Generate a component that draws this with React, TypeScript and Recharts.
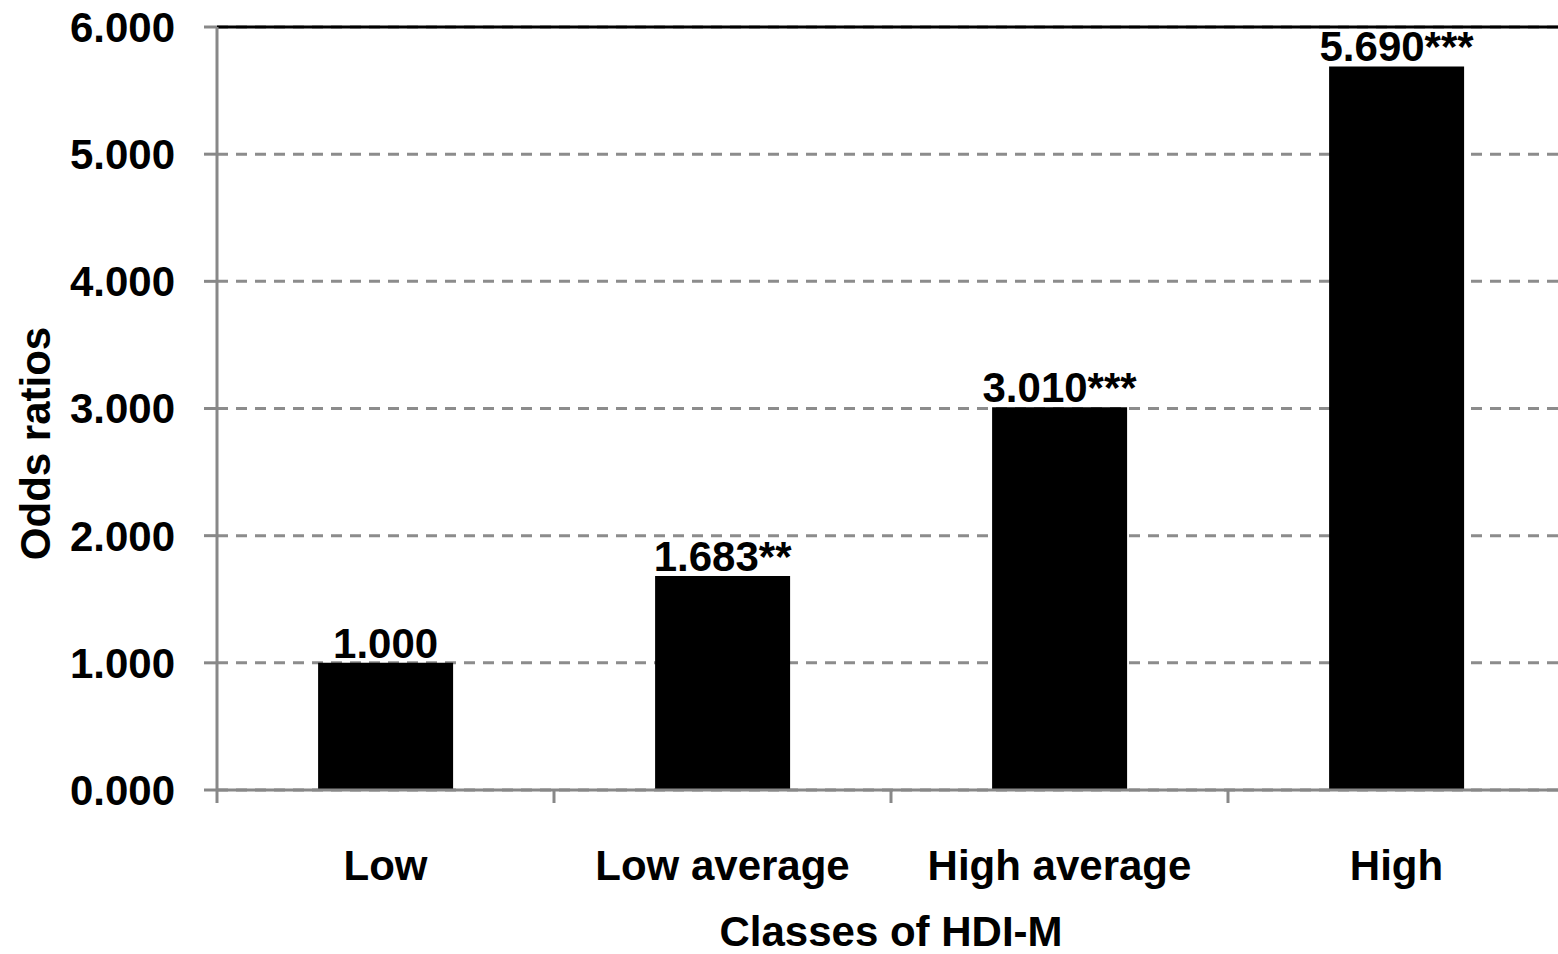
import React from 'react';
import { BarChart, Bar, XAxis, YAxis, CartesianGrid, ReferenceLine, LabelList, Label } from 'recharts';

const categories = ['Low', 'Low average', 'High average', 'High'];
const oddsRatios = [1.0, 1.683, 3.01, 5.69];
const valueLabels = ['1.000', '1.683**', '3.010***', '5.690***'];
const yTicks = [0, 1, 2, 3, 4, 5, 6];

const data = categories.map((c, i) => ({ name: c, value: oddsRatios[i], label: valueLabels[i] }));

const FONT = '"Liberation Sans", Arial, sans-serif';
const GRAY = '#888888';

const YLabel = (props: any) => {
  const vb = props.viewBox || {};
  const cx = 35;
  const cy = vb.y + vb.height / 2 + 35;
  return (
    <text x={cx} y={cy} transform={`rotate(-90, ${cx}, ${cy})`} textAnchor="middle" dominantBaseline="central"
      fontFamily={FONT} fontWeight="bold" fontSize={42} fill="#000">Odds ratios</text>
  );
};

const CatTick = (props: any) => {
  const { x, y, payload, index, visibleTicksCount } = props;
  const half = payload && payload.offset ? payload.offset : 0;
  const axisY = y - 13 - 47;
  return (
    <g>
      <line x1={x - half} x2={x - half} y1={axisY} y2={axisY + 13} stroke={GRAY} strokeWidth={3} />
      {index === visibleTicksCount - 1 ? (
        <line x1={x + half} x2={x + half} y1={axisY} y2={axisY + 13} stroke={GRAY} strokeWidth={3} />
      ) : null}
      <text x={x} y={y} dy="0.71em" textAnchor="middle" fontFamily={FONT} fontWeight="bold" fontSize={42} fill="#000">
        {payload.value}
      </text>
    </g>
  );
};

export default function App() {
  return (
    <div style={{ position: 'absolute', left: 0, top: 0, width: 1558, height: 954, overflow: 'hidden', background: '#fff' }}>
      <BarChart width={1575} height={954} data={data} margin={{ top: 27, right: 10, left: 0, bottom: 0 }} barCategoryGap="30%">
        <CartesianGrid vertical={false} stroke="#8c8c8c" strokeWidth={3} strokeDasharray="11 8" />
        <XAxis dataKey="name" height={164} tickLine={false} tickSize={13} tickMargin={47}
          axisLine={{ stroke: GRAY, strokeWidth: 3 }} tick={<CatTick />} interval={0}>
          <Label value="Classes  of HDI-M" position="insideBottom" offset={8}
            style={{ fontFamily: FONT, fontWeight: 'bold', fontSize: 42, fill: '#000' }} />
        </XAxis>
        <YAxis width={217} domain={[0, 6]} ticks={yTicks} tickFormatter={(v: number) => v.toFixed(3)}
          axisLine={{ stroke: GRAY, strokeWidth: 3 }} tickLine={{ stroke: GRAY, strokeWidth: 3 }} tickSize={13} tickMargin={29}
          tick={{ fontFamily: FONT, fontWeight: 'bold', fontSize: 42, fill: '#000' }}>
          <Label content={<YLabel />} />
        </YAxis>
        <ReferenceLine y={6} stroke="#000" strokeWidth={3} />
        <Bar dataKey="value" fill="#000" isAnimationActive={false}>
          <LabelList dataKey="label" position="top" offset={5}
            style={{ fontFamily: FONT, fontWeight: 'bold', fontSize: 42, fill: '#000' }} />
        </Bar>
      </BarChart>
    </div>
  );
}
